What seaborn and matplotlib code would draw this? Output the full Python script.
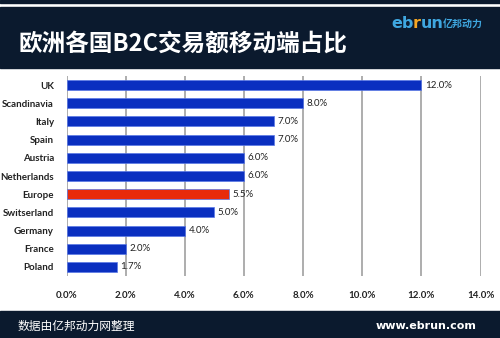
import matplotlib
matplotlib.use("Agg")
import matplotlib.pyplot as plt
import seaborn as sns
import pandas as pd

categories = ["UK", "Scandinavia", "Italy", "Spain", "Austria", "Netherlands",
              "Europe", "Switserland", "Germany", "France", "Poland"]
values = [12.0, 8.0, 7.0, 7.0, 6.0, 6.0, 5.5, 5.0, 4.0, 2.0, 1.7]
xticks = [0, 2, 4, 6, 8, 10, 12, 14]
title = "欧洲各国B2C交易额移动端占比"
footer_left = "数据由亿邦动力网整理"
footer_right = "www.ebrun.com"

sns.set_theme(style="white")
plt.rcParams['font.family'] = ['Noto Sans CJK SC', 'DejaVu Sans']

df = pd.DataFrame({"cat": categories, "val": values})
df["grp"] = ["hi" if c == "Europe" else "n" for c in categories]
palette = {"n": "#0A2FC0", "hi": "#E82A0A"}

W, H = 500, 338
fig = plt.figure(figsize=(W / 100, H / 100), dpi=100)
fig.patch.set_facecolor("white")

navy = "#0B1A2E"
fig.patches.append(plt.Rectangle((0, 1 - 3 / H), 1, 3 / H, transform=fig.transFigure, color=navy, zorder=0))
fig.patches.append(plt.Rectangle((0, 1 - 68 / H), 1, 61 / H, transform=fig.transFigure, color=navy, zorder=0))
fig.patches.append(plt.Rectangle((0, 0), 1, 27 / H, transform=fig.transFigure, color=navy, zorder=0))

fig.text(18 / W, 1 - 44 / H, title, color="white", fontsize=17, fontweight="bold",
         va="center", ha="left")

# logo pieces chained left to right
logo_blue = "#3FA7E0"
renderer = fig.canvas.get_renderer()
x = 391.0
for txt, col, fs, fam in [("eb", logo_blue, 11.5, ["DejaVu Sans"]),
                          ("r", "#F5A623", 11.5, ["DejaVu Sans"]),
                          ("un", logo_blue, 11.5, ["DejaVu Sans"]),
                          ("亿邦动力", logo_blue, 7.2, ["Noto Sans CJK SC"])]:
    t = fig.text(x / W, 1 - 24 / H, txt, color=col, fontsize=fs, fontweight="bold",
                 va="center", ha="left", family=fam)
    bb = t.get_window_extent(renderer)
    x = bb.x1 - 0.5

fig.text(18 / W, 12 / H, footer_left, color="white", fontsize=8.5, va="center", ha="left")
fig.text(476 / W, 12 / H, footer_right, color="white", fontsize=8, fontweight="bold",
         va="center", ha="right", family=["DejaVu Sans"])

ax = fig.add_axes([66.5 / W, 1 - 276 / H, (480.5 - 66.5) / W, (276 - 76) / H])
sns.barplot(data=df, y="cat", x="val", hue="grp", palette=palette, orient="h",
            width=0.55, ax=ax, legend=False, saturation=1,
            edgecolor="#5A78E6", linewidth=0.5, zorder=3)
ax.set_xlim(0, 14)
ax.set_ylim(len(categories) - 0.5, -0.5)
ax.set_xticks(xticks)
ax.set_xticklabels([f"{t:.1f}%" for t in xticks], fontsize=7, fontweight="bold",
                   color="#222222", family=["Lato"])
ax.tick_params(axis="x", length=0, pad=11)
ax.tick_params(axis="y", length=0, pad=9)
for lbl in ax.get_yticklabels():
    lbl.set_fontsize(7)
    lbl.set_fontweight("bold")
    lbl.set_color("#222222")
    lbl.set_family(["Lato"])
ax.set_xlabel("")
ax.set_ylabel("")
ax.xaxis.grid(True, color="#A0A0A0", linewidth=1.2, zorder=0)
ax.set_axisbelow(True)
for s in ax.spines.values():
    s.set_visible(False)
for i, v in enumerate(values):
    ax.text(v + 0.12, i, f"{v:.1f}%", va="center", ha="left", fontsize=7,
            color="#222222", zorder=4, family=["Lato"])

fig.savefig("out.png", dpi=100, facecolor="white")
